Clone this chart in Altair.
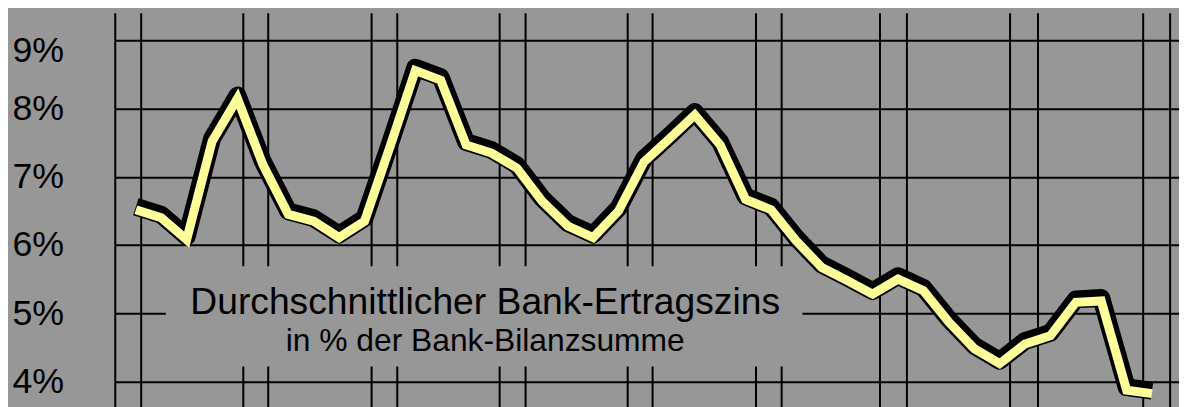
import altair as alt
import pandas as pd

# ---- data ----
years = list(range(1969, 2010))
rates = [6.52, 6.40, 6.08, 7.52, 8.15, 7.18, 6.45, 6.35, 6.11, 6.35,
         7.44, 8.56, 8.42, 7.47, 7.35, 7.13, 6.64, 6.28, 6.11, 6.50,
         7.22, 7.56, 7.91, 7.47, 6.67, 6.52, 6.06, 5.67, 5.48, 5.28,
         5.50, 5.33, 4.87, 4.48, 4.26, 4.55, 4.67, 5.16, 5.18, 3.87,
         3.82]

grid_years = [1968.19, 1969.21, 1973.23, 1974.21, 1978.28, 1979.29,
              1983.32, 1984.34, 1988.36, 1989.34, 1993.41, 1994.42,
              1998.29, 1999.35, 2003.41, 2004.51, 2008.65, 2009.71]
y_ticks = [4, 5, 6, 7, 8, 9]

box_x = [1970.18, 1995.24]
box_y = [4.22, 5.69]

title_lines = ["Durchschnittlicher Bank-Ertragszins", "in % der Bank-Bilanzsumme"]
title_x = [1982.75, 1982.75]
title_y = [4.99, 4.445]
title_size = [37.5, 32]

BG = "#979797"
FONT = "Liberation Sans"

line_df = pd.DataFrame({"year": years, "rate": rates})
grid_df = pd.DataFrame({"gx": grid_years})
box_df = pd.DataFrame({"x1": [box_x[0]], "x2": [box_x[1]], "y1": [box_y[0]], "y2": [box_y[1]]})
text_df = pd.DataFrame({"t": title_lines, "tx": title_x, "ty": title_y, "fs": title_size})

xscale = alt.Scale(domain=[1968.19, 2010.06], nice=False, zero=False)
yscale = alt.Scale(domain=[3.6, 9.4], nice=False, zero=False)

yaxis = alt.Axis(
    values=y_ticks, grid=True, gridColor="black", gridWidth=2, gridOpacity=1,
    ticks=False, domain=False, title=None,
    labelExpr="datum.value + '%'", labelFont=FONT, labelFontSize=36,
    labelColor="black", labelAlign="left", labelPadding=104,
    labelOffset={"condition": {"test": "datum.value == 9", "value": 10}, "value": 0},
)

def X(field):
    return alt.X(field, type="quantitative", scale=xscale, axis=None)

def Y(field):
    return alt.Y(field, type="quantitative", scale=yscale, axis=yaxis)

vrules = alt.Chart(grid_df).mark_rule(color="black", strokeWidth=2).encode(x=X("gx"))

box = alt.Chart(box_df).mark_rect(color=BG, opacity=1).encode(
    x=X("x1"), x2="x2", y=Y("y1"), y2="y2"
)

texts = alt.Chart(text_df).mark_text(
    font=FONT, color="black", align="center", baseline="alphabetic"
).encode(
    x=X("tx"), y=Y("ty"), text="t:N",
    size=alt.Size("fs:Q", scale=None, legend=None),
)

shadow = alt.Chart(line_df).mark_line(
    color="black", strokeWidth=18, strokeJoin="round", strokeCap="butt", yOffset=-3
).encode(x=X("year"), y=Y("rate"))

yellow = alt.Chart(line_df).mark_line(
    color="#ffff99", strokeWidth=9, strokeJoin="miter", strokeCap="butt"
).encode(x=X("year"), y=Y("rate"))

chart = alt.layer(vrules, box, texts, shadow, yellow).properties(
    width=1071, height=398,
    padding={"left": 4, "top": 3, "right": 0, "bottom": 0},
    background=BG,
).configure_view(stroke=None)

chart.save("out.html", embed_options={"renderer": "svg", "actions": False})
